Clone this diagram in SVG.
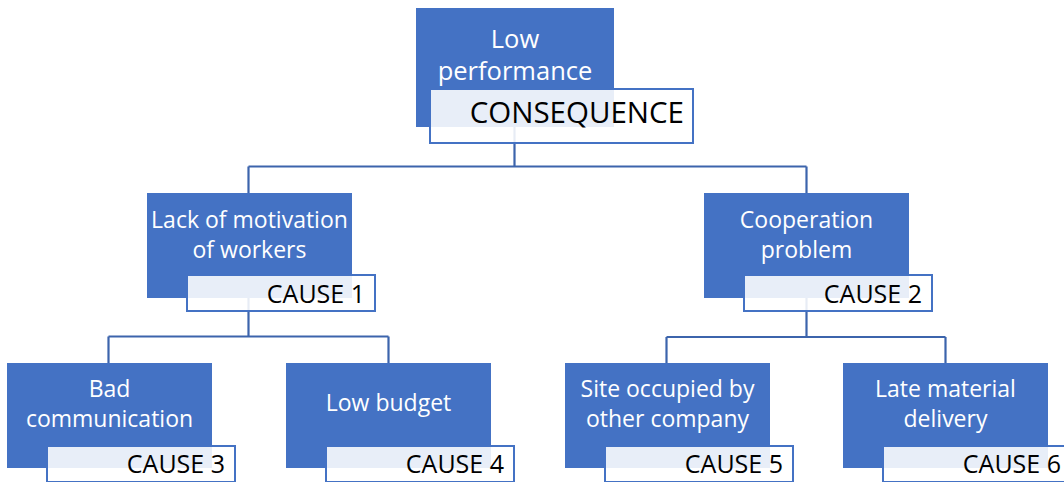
<svg xmlns="http://www.w3.org/2000/svg" width="1064" height="482" viewBox="0 0 1064 482">
<style>
.box{fill:#4472C4;}
.lbl{fill:#FFFFFF;fill-opacity:0.88;stroke:#4472C4;stroke-width:2;}
.t{font-family:"Open Sans","Liberation Sans",sans-serif;font-size:23px;fill:#FFFFFF;text-anchor:middle;}
.tt{font-family:"Open Sans","Liberation Sans",sans-serif;font-size:25.5px;fill:#FFFFFF;text-anchor:middle;}
.c{font-family:"Open Sans","Liberation Sans",sans-serif;font-size:25px;fill:#000000;text-anchor:end;}
.cq{font-family:"Open Sans","Liberation Sans",sans-serif;font-size:29.5px;fill:#000000;text-anchor:end;}
.con{fill:none;stroke:#3C64AC;stroke-width:2.2;}
</style>
<rect width="1064" height="482" fill="#FFFFFF"/>
<g id="connectors" class="con">
<path d="M514.5 127 V166.5 M248.5 166.5 H806.5 M248.5 166.5 V193 M806.5 166.5 V193"/>
<path d="M248.5 298 V336.5 M108.5 336.5 H388.5 M108.5 336.5 V363 M388.5 336.5 V363"/>
<path d="M806.5 298 V337 M666.5 337 H945.5 M666.5 337 V363 M945.5 337 V363"/>
</g>
<g id="consequence">
<rect class="box" x="416" y="8" width="198" height="119"/>
<text class="tt" x="515" y="48">Low</text>
<text class="tt" x="515" y="80">performance</text>
<rect class="lbl" x="430" y="89" width="263" height="54"/>
<text class="cq" x="684" y="123">CONSEQUENCE</text>
</g>
<g id="cause1">
<rect class="box" x="147" y="193" width="205" height="105"/>
<text class="t" x="249.5" y="227.5">Lack of motivation</text>
<text class="t" x="249.5" y="257.5">of workers</text>
<rect class="lbl" x="187" y="275" width="188" height="36"/>
<text class="c" x="365" y="303">CAUSE 1</text>
</g>
<g id="cause2">
<rect class="box" x="704" y="193" width="205" height="105"/>
<text class="t" x="806.5" y="227.5">Cooperation</text>
<text class="t" x="806.5" y="257.5">problem</text>
<rect class="lbl" x="744" y="275" width="188" height="36"/>
<text class="c" x="922" y="303">CAUSE 2</text>
</g>
<g id="cause3">
<rect class="box" x="7" y="363" width="205" height="105"/>
<text class="t" x="109.5" y="397">Bad</text>
<text class="t" x="109.5" y="427">communication</text>
<rect class="lbl" x="47" y="446" width="188" height="36"/>
<text class="c" x="225" y="473">CAUSE 3</text>
</g>
<g id="cause4">
<rect class="box" x="286" y="363" width="205" height="105"/>
<text class="t" x="388.5" y="411">Low budget</text>
<rect class="lbl" x="326" y="446" width="188" height="36"/>
<text class="c" x="504" y="473">CAUSE 4</text>
</g>
<g id="cause5">
<rect class="box" x="565" y="363" width="205" height="105"/>
<text class="t" x="667.5" y="397">Site occupied by</text>
<text class="t" x="667.5" y="427">other company</text>
<rect class="lbl" x="605" y="446" width="188" height="36"/>
<text class="c" x="783" y="473">CAUSE 5</text>
</g>
<g id="cause6">
<rect class="box" x="843" y="363" width="205" height="105"/>
<text class="t" x="945.5" y="397">Late material</text>
<text class="t" x="945.5" y="427">delivery</text>
<rect class="lbl" x="883" y="446" width="188" height="36"/>
<text class="c" x="1061" y="473">CAUSE 6</text>
</g>
</svg>
